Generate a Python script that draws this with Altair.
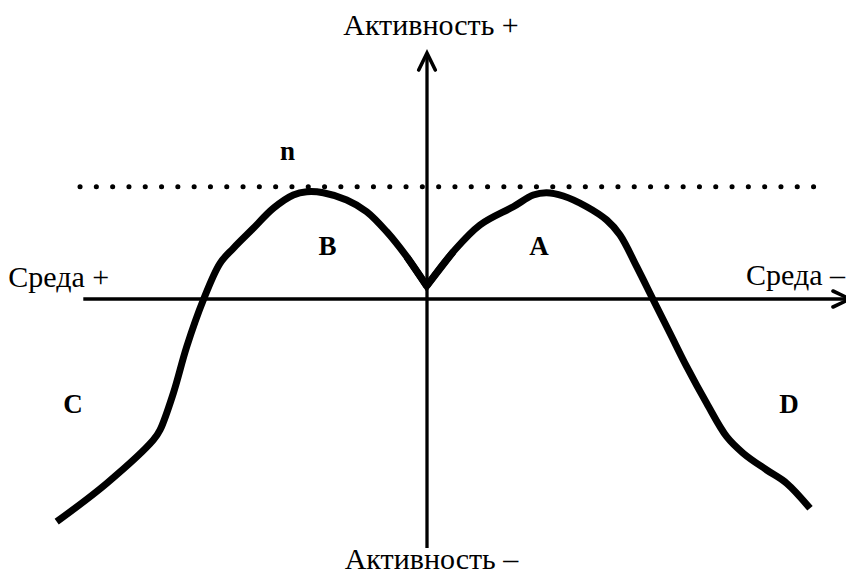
import altair as alt
import pandas as pd

# Diagram coordinates: origin at the crossing of the two axes, y up.
curve_x = [-370.3, -320.3, -273.7, -267.0, -253.7, -240.3, -223.7, -207.0, -193.7, -173.7,
           -153.7, -133.7, -120.3, -103.7, -80.3, -60.3, -40.3, -20.3, -0.3,
           26.3, 53.0, 86.3, 106.3, 119.7, 136.3, 159.7, 179.7, 193.0, 209.7,
           226.3, 243.0, 259.7, 279.7, 299.7, 316.3, 339.7, 359.7, 383.0]
curve_y = [-222.7, -184.3, -141.0, -131.0, -94.3, -47.7, -1.0, 35.7, 50.7, 70.7,
           90.7, 104.0, 107.3, 106.3, 99.0, 87.3, 67.3, 42.3, 13.0,
           47.3, 74.0, 92.3, 104.0, 106.3, 103.0, 92.3, 79.0, 64.0, 32.3,
           -1.0, -34.3, -67.7, -104.3, -137.7, -154.3, -171.0, -184.3, -209.3]
CUSP = 18  # index of the sharp point on the vertical axis

# Axis lines (start / end)
axis_x = [-343.7, 0.0]
axis_y = [0.0, -249.0]
axis_x2 = [423.0, 0.0]
axis_y2 = [0.0, 246.0]

# Arrow heads (open chevrons)
arrow_group = ["up", "up", "up", "right", "right", "right"]
arrow_x = [-8.3, 0.0, 8.3, 406.0, 423.0, 406.0]
arrow_y = [229.0, 246.0, 229.0, 8.0, 0.0, -8.0]

# Dotted level line n
level_y = [112.3]
level_x = [-347.0]
level_x2 = [400.5]

# Labels
axis_labels = ["Активность +", "Активность –"]
axis_label_x = [4.0, 4.5]
axis_label_y = [264.5, -269.5]

side_labels = ["Среда +", "Среда –"]
side_label_x = [-418.7, 319.0]
side_label_y = [12.0, 14.0]

zone_labels = ["n", "B", "A", "C", "D"]
zone_label_x = [-139.5, -99.5, 112.0, -354.0, 362.0]
zone_label_y = [139.0, 44.0, 44.0, -114.0, -114.0]

XD = [-419, 419]
YD = [-276, 291]
xs = alt.Scale(domain=XD, nice=False, zero=False)
ys = alt.Scale(domain=YD, nice=False, zero=False)

n = len(curve_x)
seg = ["left" if i <= CUSP else "right" for i in range(n)]
curve_df = pd.DataFrame({"x": curve_x, "y": curve_y, "o": list(range(n)), "s": seg})
# the right branch also starts at the cusp
cusp_row = pd.DataFrame({"x": [curve_x[CUSP]], "y": [curve_y[CUSP]], "o": [CUSP], "s": ["right"]})
curve_df = pd.concat([curve_df, cusp_row], ignore_index=True)
cusp_df = pd.DataFrame({"x": curve_x[CUSP - 1:CUSP + 2], "y": curve_y[CUSP - 1:CUSP + 2],
                        "o": [0, 1, 2]})

axes_df = pd.DataFrame({"x": axis_x, "y": axis_y, "x2": axis_x2, "y2": axis_y2})
arrow_df = pd.DataFrame({"g": arrow_group, "x": arrow_x, "y": arrow_y,
                         "o": [0, 1, 2, 0, 1, 2]})
level_df = pd.DataFrame({"x": level_x, "x2": level_x2, "y": level_y})
axl_df = pd.DataFrame({"t": axis_labels, "x": axis_label_x, "y": axis_label_y})
sidel_df = pd.DataFrame({"t": side_labels, "x": side_label_x, "y": side_label_y})
zone_df = pd.DataFrame({"t": zone_labels, "x": zone_label_x, "y": zone_label_y})

X = lambda: alt.X("x:Q", scale=xs, axis=None)
Y = lambda: alt.Y("y:Q", scale=ys, axis=None)

curve = alt.Chart(curve_df).mark_line(
    color="black", strokeWidth=7, interpolate="catmull-rom",
    strokeCap="butt", strokeJoin="round"
).encode(x=X(), y=Y(), detail="s:N", order="o:Q")

cusp = alt.Chart(cusp_df).mark_line(
    color="black", strokeWidth=7, interpolate="linear",
    strokeCap="butt", strokeJoin="miter", strokeMiterLimit=10
).encode(x=X(), y=Y(), order="o:Q")

axes = alt.Chart(axes_df).mark_rule(color="black", strokeWidth=3.3).encode(
    x=X(), y=Y(), x2="x2:Q", y2="y2:Q")

arrows = alt.Chart(arrow_df).mark_line(
    color="black", strokeWidth=3.6, strokeJoin="miter", strokeCap="round"
).encode(x=X(), y=Y(), detail="g:N", order="o:Q")

level = alt.Chart(level_df).mark_rule(
    color="black", strokeWidth=5, strokeDash=[0.1, 16.2], strokeCap="round"
).encode(x=X(), x2="x2:Q", y=Y())

FONT = "Liberation Serif, Times New Roman, serif"
axl = alt.Chart(axl_df).mark_text(
    font=FONT, fontSize=30, align="center", baseline="alphabetic", color="black"
).encode(x=X(), y=Y(), text="t:N")

sidel = alt.Chart(sidel_df).mark_text(
    font=FONT, fontSize=30, align="left", baseline="alphabetic", color="black"
).encode(x=X(), y=Y(), text="t:N")

zone = alt.Chart(zone_df).mark_text(
    font=FONT, fontSize=27, fontWeight="bold", align="center",
    baseline="alphabetic", color="black"
).encode(x=X(), y=Y(), text="t:N")

chart = alt.layer(level, axes, arrows, curve, cusp, axl, sidel, zone).properties(
    width=838, height=567, padding=0, autosize="none", background="white"
).configure_view(stroke=None)

chart.save("out.html", embed_options={"renderer": "svg", "actions": False})
